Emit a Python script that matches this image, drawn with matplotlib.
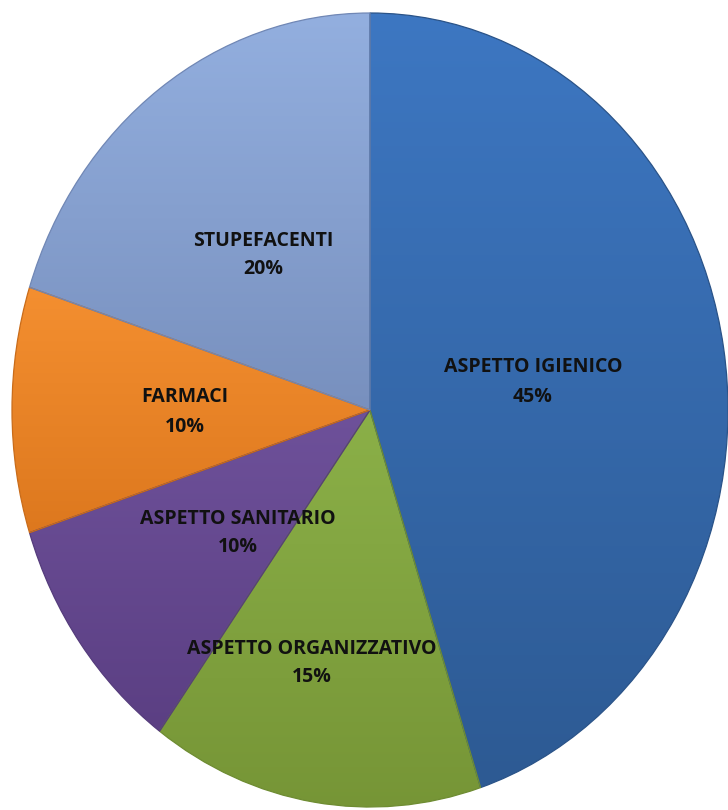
import numpy as np
import matplotlib
matplotlib.use("Agg")
import matplotlib.pyplot as plt
from matplotlib.colors import LinearSegmentedColormap

categories = ["ASPETTO IGIENICO", "ASPETTO ORGANIZZATIVO", "ASPETTO SANITARIO", "FARMACI", "STUPEFACENTI"]
values = [45, 15, 10, 10, 20]
pct_labels = ["45%", "15%", "10%", "10%", "20%"]

top_colors = ["#3D77C2", "#8BB048", "#6E519A", "#F48F30", "#93AFDF"]
bottom_colors = ["#2D5A93", "#769536", "#5B3F83", "#DD781E", "#7890BE"]
edge_colors = ["#2A5388", "#6E8C32", "#553C7C", "#C96C1A", "#7087B5"]

# label centres in pixels (layout only)
label_px = [(533, 382), (312, 663), (238, 533), (185, 412), (263, 255)]

W, H = 728, 810
fig = plt.figure(figsize=(W / 100, H / 100), dpi=100)
cx, cy, rx, ry = 370, 410, 358, 397
ax = fig.add_axes([(cx - rx) / W, (H - cy - ry) / H, 2 * rx / W, 2 * ry / H])

wedges, _ = ax.pie(values, startangle=90, counterclock=False, radius=1,
                   colors=top_colors,
                   wedgeprops=dict(edgecolor="none", linewidth=0))
ax.set_aspect("auto")
ax.set_xlim(-1, 1)
ax.set_ylim(-1, 1)
ax.axis("off")

# gradient fill for each wedge
for w, tc, bc, ec in zip(wedges, top_colors, bottom_colors, edge_colors):
    path = w.get_path()
    verts = w.get_transform().transform(path.vertices)
    verts = ax.transData.inverted().transform(verts)
    ymin, ymax = verts[:, 1].min(), verts[:, 1].max()
    xmin, xmax = verts[:, 0].min(), verts[:, 0].max()
    cmap = LinearSegmentedColormap.from_list("g", [bc, tc])
    grad = np.linspace(0, 1, 256).reshape(-1, 1)
    im = ax.imshow(grad, cmap=cmap, origin="lower", aspect="auto",
                   extent=[xmin, xmax, ymin, ymax], zorder=1)
    im.set_clip_path(w)
    w.set_facecolor("none")
    w.set_edgecolor(ec)
    w.set_linewidth(0.9)
    w.set_zorder(2)

ax.set_xlim(-1, 1)
ax.set_ylim(-1, 1)

for name, pct, (px, py) in zip(categories, pct_labels, label_px):
    xd = (px - cx) / rx
    yd = (cy - py) / ry
    ax.text(xd, yd, name + "\n" + pct, ha="center", va="center",
            fontsize=14, fontweight="bold", family=["Open Sans", "DejaVu Sans"],
            color="#111111", linespacing=1.6, zorder=5)

fig.savefig("out.png", dpi=100)
